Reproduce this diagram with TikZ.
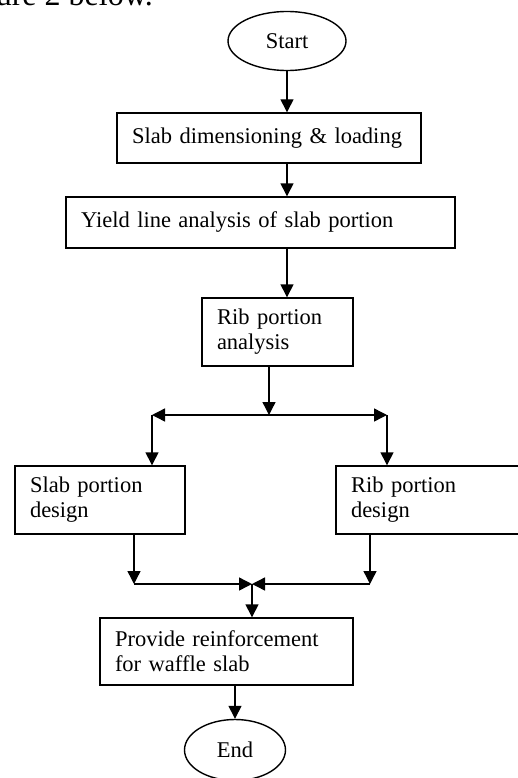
\documentclass[tikz,border=0pt]{standalone}
\usepackage{fontspec}
\setmainfont{Liberation Serif}
\usetikzlibrary{shapes.geometric, arrows.meta}

\tikzset{
	box/.style = {draw, rectangle, line width=1.4pt, align=left, inner xsep=15pt, inner ysep=0pt,
		font=\fontsize{22.5}{25}\selectfont},
	term/.style = {draw, ellipse, line width=1.4pt, inner sep=0pt,
		font=\fontsize{22.5}{25}\selectfont},
	flow/.style = {line width=1.4pt, -{Triangle[length=13pt, width=13pt]}},
}

\begin{document}
\begin{tikzpicture}[x=1pt, y=-1pt]
% page frame
	\useasboundingbox (0,0) rectangle (518,778);
	\clip (0,0) rectangle (518,778);
	\node[anchor=base east, inner sep=0pt, font=\fontsize{32}{36}\selectfont] (caption) at (153,6) {Figure 2 below.};
% draw steps
	\node[term, minimum width=118pt, minimum height=59pt] (start) at (287,41) {Start};
	\node[box, text width=274pt, minimum height=50pt] (dim) at (269,138) {Slab dimensioning \& loading};
	\node[box, text width=359pt, minimum height=51pt] (yield) at (260.5,222.5) {Yield line analysis of slab portion};
	\node[box, text width=121pt, minimum height=68pt] (ribA) at (277.5,332) {Rib portion\\analysis};
	\node[box, text width=140pt, minimum height=68pt] (slabD) at (100,500) {Slab portion\\design};
	\node[box, text width=158pt, minimum height=68pt] (ribD) at (430,500) {Rib portion\\design};
	\node[box, text width=223pt, minimum height=67pt] (reinf) at (226.5,651.5) {Provide reinforcement\\for waffle slab};
	\node[term, minimum width=101pt, minimum height=61pt] (end) at (235,750) {End};
% junction points
	\coordinate (split) at (269,415);
	\coordinate (splitL) at (152,415);
	\coordinate (splitR) at (387,415);
	\coordinate (merge) at (252,584);
	\coordinate (mergeL) at (134,584);
	\coordinate (mergeR) at (370,584);
% draw arrows
	\draw[flow] (start) -- (start |- dim.north);
	\draw[flow] (dim.south -| start) -- (yield.north -| start);
	\draw[flow] (yield.south -| start) -- (ribA.north -| start);
	\draw[flow] (ribA.south -| split) -- (split);
	\draw[flow] (split) -- (splitL);
	\draw[flow] (split) -- (splitR);
	\draw[flow] (splitL) -- (splitL |- slabD.north);
	\draw[flow] (splitR) -- (splitR |- ribD.north);
	\draw[flow] (slabD.south -| mergeL) -- (mergeL);
	\draw[flow] (ribD.south -| mergeR) -- (mergeR);
	\draw[flow] (mergeL) -- (merge);
	\draw[flow] (mergeR) -- (merge);
	\draw[flow] (merge) -- (merge |- reinf.north);
	\draw[flow] (reinf.south -| end) -- (end);
\end{tikzpicture}
\end{document}
